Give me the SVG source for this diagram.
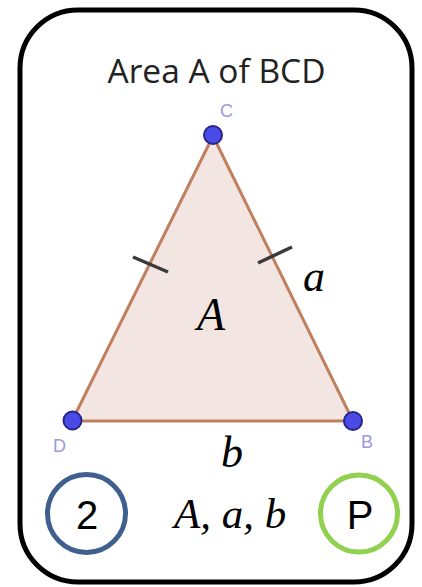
<svg xmlns="http://www.w3.org/2000/svg" width="422" height="587" viewBox="0 0 422 587">
<style>
.title{font-family:"Open Sans","DejaVu Sans",sans-serif;font-size:33.5px;fill:#222;}
.pt{fill:#4a4ae6;stroke:#25258a;stroke-width:2;}
.plabel{font-family:"Liberation Sans",Arial,sans-serif;font-size:18px;fill:#9a9ae0;}
.math{font-family:"Liberation Serif","Times New Roman",serif;font-style:italic;fill:#000;}
.tick{stroke:#3a3a3a;stroke-width:3.5;stroke-linecap:butt;}
.badge{fill:none;stroke-width:5;}
.btxt{font-family:"Liberation Sans",Arial,sans-serif;font-size:40px;fill:#000;text-anchor:middle;}
</style>
<rect x="20" y="10" width="392" height="572" rx="58" ry="58" fill="#fff" stroke="#000" stroke-width="5"/>
<g id="title"><text class="title" x="216.5" y="83" text-anchor="middle">Area A of BCD</text></g>
<g id="triangle">
<polygon points="213,136 72,421 353,421" fill="#f3e5e2" stroke="#c08060" stroke-width="3" stroke-linejoin="round"/>
</g>
<g id="ticks">
<line class="tick" x1="133" y1="257" x2="168" y2="272"/>
<line class="tick" x1="258" y1="263" x2="292" y2="247"/>
</g>
<g id="pointC"><circle class="pt" cx="213" cy="135" r="9"/><text class="plabel" x="220" y="117">C</text></g>
<g id="pointD"><circle class="pt" cx="72.5" cy="420.5" r="9"/><text class="plabel" x="53" y="452">D</text></g>
<g id="pointB"><circle class="pt" cx="353" cy="421" r="9"/><text class="plabel" x="361" y="448">B</text></g>
<g id="labels">
<text class="math" x="303" y="291" font-size="44">a</text>
<text class="math" x="197" y="330" font-size="46">A</text>
<text class="math" x="221" y="467" font-size="44">b</text>
<text class="math" x="174" y="528" font-size="43">A, a, b</text>
</g>
<g id="badge2"><circle class="badge" cx="86.5" cy="513.5" r="39" stroke="#3f5f8e"/><text class="btxt" x="87" y="529">2</text></g>
<g id="badgeP"><circle class="badge" cx="359" cy="513.5" r="38.5" stroke="#92d050"/><text class="btxt" x="360" y="529">P</text></g>
</svg>
